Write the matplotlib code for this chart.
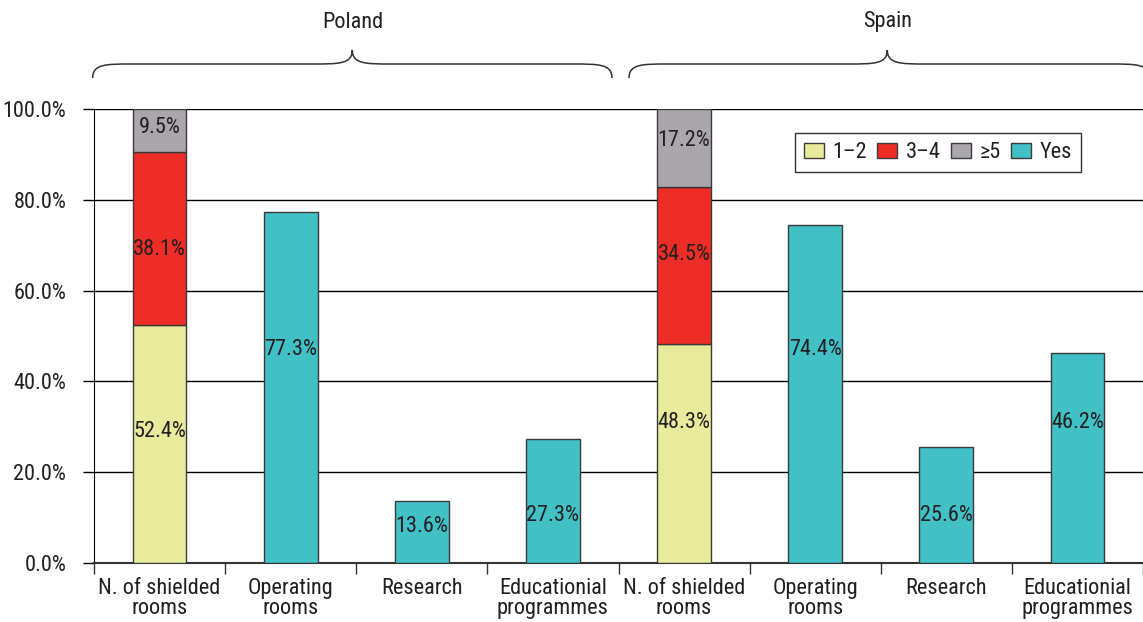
# Stacked/plain bar chart: shielded rooms and services, Poland vs Spain
import matplotlib.pyplot as plt
import numpy as np
from matplotlib.path import Path
from matplotlib.patches import PathPatch, Patch
from matplotlib.transforms import blended_transform_factory

plt.rcParams['font.family'] = ['Roboto Condensed', 'DejaVu Sans']

# data
countries = ['Poland', 'Spain']
categories = ['N. of shielded\nrooms', 'Operating\nrooms', 'Research', 'Educationial\nprogrammes']
rooms_12 = [52.4, 48.3]     # 1-2 shielded rooms
rooms_34 = [38.1, 34.5]     # 3-4
rooms_5 = [9.5, 17.2]       # >=5
operating = [77.3, 74.4]
research = [13.6, 25.6]
education = [27.3, 46.2]

# where the value labels sit (percent height), as in the original
label_y_rooms = [[29, 69, 96], [31, 68, 93]]
label_y_yes = [[47, 8, 10.4], [47, 10.4, 31]]

c_12, c_34, c_5, c_yes = '#e8eb9b', '#ee2d26', '#a9a7ac', '#41c0c6'
edge = '#3a3a3a'
txt = '#231f20'
fs = 16

fig = plt.figure(figsize=(11.43, 6.22), dpi=100)
ax = fig.add_axes([94 / 1143, 59 / 622, 1 - 94 / 1143, 454 / 622])

w = 0.41
for i in range(len(countries)):
    x0 = i * 4
    b1 = rooms_12[i]
    b2 = rooms_34[i]
    b3 = rooms_5[i]
    ax.bar(x0, b1, w, color=c_12, edgecolor=edge, linewidth=1, zorder=3)
    ax.bar(x0, b2, w, bottom=b1, color=c_34, edgecolor=edge, linewidth=1, zorder=3)
    ax.bar(x0, b3, w, bottom=b1 + b2, color=c_5, edgecolor=edge, linewidth=1, zorder=3)
    for v, ly in zip([b1, b2, b3], label_y_rooms[i]):
        ax.text(x0, ly, f'{v}%', ha='center', va='center', fontsize=fs, color=txt, zorder=4)
    yes_vals = [operating[i], research[i], education[i]]
    for j, v in enumerate(yes_vals):
        ax.bar(x0 + j + 1, v, w, color=c_yes, edgecolor=edge, linewidth=1, zorder=3)
        ax.text(x0 + j + 1, label_y_yes[i][j], f'{v}%', ha='center', va='center',
                fontsize=fs, color=txt, zorder=4)

ax.set_xlim(-0.5, 7.45)
ax.set_ylim(0, 100)
ax.set_yticks(np.arange(0, 101, 20))
ax.set_yticklabels([f'{v:.1f}%' for v in np.arange(0, 101, 20)], fontsize=fs, color=txt)
ax.yaxis.grid(True, color='black', linewidth=1)
ax.set_axisbelow(True)

ax.set_xticks(range(8))
ax.set_xticklabels(categories * 2, fontsize=fs, color=txt, linespacing=0.9)
ax.set_xticks(np.arange(-0.5, 8, 1), minor=True)
ax.tick_params(axis='x', which='major', length=0, pad=11)
ax.tick_params(axis='x', which='minor', length=8, width=1, color='#333333')
ax.tick_params(axis='y', length=8, width=1, pad=12)

for s in ['top', 'right']:
    ax.spines[s].set_visible(False)
ax.spines['left'].set_color('black')
ax.spines['bottom'].set_color('#333333')
ax.spines['bottom'].set_linewidth(1.5)

# legend
handles = [Patch(facecolor=c, edgecolor=edge, linewidth=1) for c in [c_12, c_34, c_5, c_yes]]
leg = ax.legend(handles, ['1–2', '3–4', '≥5', 'Yes'], ncol=4, loc='upper left',
                bbox_to_anchor=(0.668, 0.947), borderaxespad=0, fontsize=fs,
                frameon=True, fancybox=False, handlelength=0.9, handleheight=0.65,
                handletextpad=0.4, columnspacing=0.45, borderpad=0.4)
leg.get_frame().set_edgecolor('black')
leg.get_frame().set_linewidth(1)
for t in leg.get_texts():
    t.set_color(txt)

# curly braces with country names above
tr = blended_transform_factory(ax.transData, fig.transFigure)
ye, ym, yt = 1 - 78 / 622, 1 - 64 / 622, 1 - 50 / 622


def brace(x0, x1, xm):
    verts = [(x0, ye), (x0, ym), (x0 + 0.1, ym), (x0 + 0.3, ym),
             (xm - 0.3, ym),
             (xm - 0.1, ym), (xm, ym), (xm, yt),
             (xm, ym), (xm + 0.1, ym), (xm + 0.3, ym),
             (x1 - 0.3, ym),
             (x1 - 0.1, ym), (x1, ym), (x1, ye)]
    codes = [Path.MOVETO, Path.CURVE4, Path.CURVE4, Path.CURVE4,
             Path.LINETO,
             Path.CURVE4, Path.CURVE4, Path.CURVE4,
             Path.CURVE4, Path.CURVE4, Path.CURVE4,
             Path.LINETO,
             Path.CURVE4, Path.CURVE4, Path.CURVE4]
    fig.add_artist(PathPatch(Path(verts, codes), transform=tr, fill=False,
                             edgecolor='#333333', linewidth=1.1, clip_on=False))


brace(-0.51, 3.45, 1.47)
brace(3.58, 7.55, 5.55)
fig.text(1.47, 1 - 22 / 622, countries[0], transform=tr, ha='center', va='center',
         fontsize=fs, color=txt)
fig.text(5.55, 1 - 22 / 622, countries[1], transform=tr, ha='center', va='center',
         fontsize=fs, color=txt)

plt.savefig('out.png', dpi=100)
